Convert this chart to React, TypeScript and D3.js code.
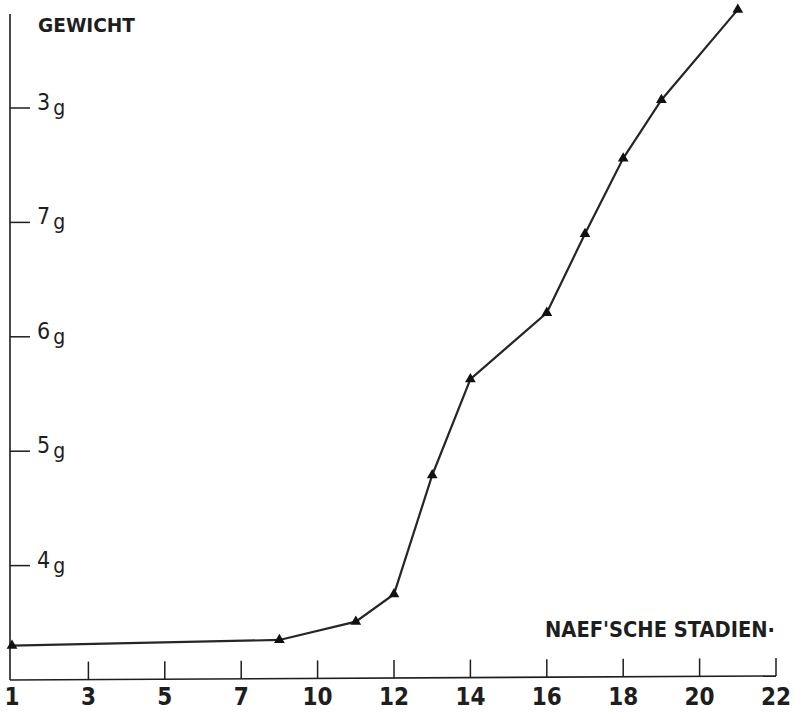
import React from "react";
import * as d3 from "d3";

const xTickLabels = [1, 3, 5, 7, 10, 12, 14, 16, 18, 20, 22];
const yTickValues = [4, 5, 6, 7, 8];
const yTickLabels = ["4", "5", "6", "7", "3"];
const stages = [1, 8.5, 11, 12, 13, 14, 16, 17, 18, 19, 21];
const weights = [3.3, 3.35, 3.51, 3.75, 4.79, 5.63, 6.21, 6.9, 7.56, 8.07, 8.86];

const W = 795;
const H = 712;
const left = 12;
const right = 776;
const bottom = 680;
const top = 108;

export default function App() {
  const step = (right - left) / (xTickLabels.length - 1);
  const x = d3
    .scaleLinear()
    .domain(xTickLabels)
    .range(xTickLabels.map((_, i) => left + i * step));
  const y = d3.scaleLinear().domain([3, 8]).range([bottom, top]);

  const pts = stages.map((s, i) => [x(s), y(weights[i])] as [number, number]);
  const line = d3.line()(pts) || "";
  const tri = d3.symbol(d3.symbolTriangle, 50)() || "";
  const font = "'DejaVu Sans Condensed', 'DejaVu Sans', 'Liberation Sans', sans-serif";
  const ink = "#1e1e1e";

  return (
    <svg
      width={W}
      height={H}
      style={{ position: "absolute", left: 0, top: 0, background: "#fff" }}
    >
      {/* y axis */}
      <line x1={10} y1={14} x2={10} y2={bottom} stroke={ink} strokeWidth={1.6} />
      {yTickValues.map((v, i) => (
        <g key={v}>
          <line x1={10} x2={30} y1={y(v)} y2={y(v)} stroke={ink} strokeWidth={1.5} />
          <text x={37} y={y(v) + 2} fontFamily={font} fontSize={23} fill={ink}>
            {yTickLabels[i]}
            <tspan fontSize={21} dx={3} dy={5}>g</tspan>
          </text>
        </g>
      ))}
      <text
        x={38}
        y={32}
        fontFamily={font}
        fontSize={20}
        fontWeight={600}
        textLength={97}
        lengthAdjust="spacingAndGlyphs"
        fill={ink}
      >
        GEWICHT
      </text>

      {/* x axis */}
      <line x1={10} y1={bottom} x2={right} y2={bottom - 4} stroke={ink} strokeWidth={1.6} />
      {xTickLabels.map((t, i) =>
        i === 0 ? null : (
          <line
            key={"t" + t}
            x1={x(t)}
            x2={x(t)}
            y1={bottom - 18 - (i * 4) / 10}
            y2={bottom - (i * 4) / 10}
            stroke={ink}
            strokeWidth={1.5}
          />
        )
      )}
      {xTickLabels.map((t) => (
        <text
          key={"l" + t}
          x={x(t)}
          y={705}
          textAnchor="middle"
          fontFamily={font}
          fontSize={24}
          fontWeight={600}
          fill={ink}
        >
          {t}
        </text>
      ))}
      <text
        x={545}
        y={637}
        fontFamily={font}
        fontSize={21}
        fontWeight={600}
        textLength={230}
        lengthAdjust="spacingAndGlyphs"
        fill={ink}
      >
        NAEF'SCHE STADIEN·
      </text>

      {/* data */}
      <path d={line} fill="none" stroke="#262626" strokeWidth={2.2} />
      {pts.map(([px, py], i) => (
        <path key={i} d={tri} transform={`translate(${px},${py})`} fill="#111" />
      ))}
    </svg>
  );
}
